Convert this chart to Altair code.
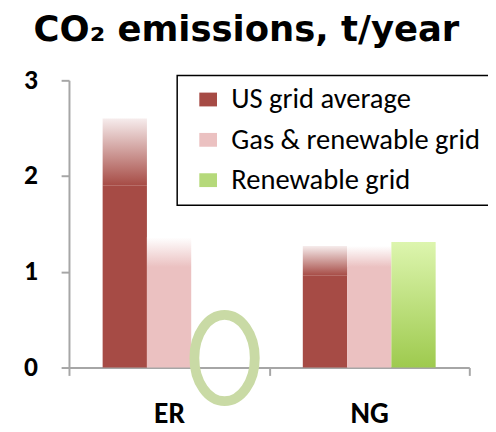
import altair as alt
import pandas as pd

# ---- data ----
categories = ["ER", "ER", "ER", "NG", "NG", "NG"]
series = ["US grid average", "Gas & renewable grid", "Renewable grid",
          "US grid average", "Gas & renewable grid", "Renewable grid"]
low_values = [1.9, 1.05, 0.0, 0.96, 1.05, 0.0]
high_values = [2.6, 1.36, 0.0, 1.27, 1.27, 1.31]

series_order = ["US grid average", "Gas & renewable grid", "Renewable grid"]
series_colors = ["#A64B45", "#EBC1C1", "#B5D97A"]

highlight_category = ["ER"]
highlight_series = ["Renewable grid"]
highlight_value = [0.10]

df = pd.DataFrame({"category": categories, "series": series,
                   "low": low_values, "high": high_values})
hl = pd.DataFrame({"category": highlight_category, "series": highlight_series,
                   "low": highlight_value})

FONT = "Carlito, Calibri, Lato, sans-serif"
TFONT = "DejaVu Sans, sans-serif"
AX = "#A6A6A6"

x_enc = alt.X("category:N", title=None,
              scale=alt.Scale(paddingInner=0, paddingOuter=0),
              axis=alt.Axis(labelAngle=0, tickBand="extent", domainColor=AX, domainWidth=2,
                            tickColor=AX, tickWidth=2, tickSize=8,
                            labelFont=FONT, labelFontWeight="bold", labelFontSize=30,
                            labelColor="black", labelPadding=24))
xo_enc = alt.XOffset("series:N",
                     scale=alt.Scale(domain=series_order, paddingInner=0, paddingOuter=0.76))
y_scale = alt.Scale(domain=[0, 3], nice=False)
y_enc = alt.Y("low:Q", title=None, scale=y_scale,
              axis=alt.Axis(values=[0, 1, 2, 3], grid=False, domainColor=AX, domainWidth=2,
                            tickColor=AX, tickWidth=2, tickSize=8, format="d",
                            labelFont=FONT, labelFontWeight="bold", labelFontSize=28,
                            labelColor="black", labelPadding=24))

base = alt.Chart(df)

solid = base.mark_bar().encode(
    x=x_enc, xOffset=xo_enc, y=y_enc,
    color=alt.Color("series:N", title=None,
                    scale=alt.Scale(domain=series_order, range=series_colors),
                    legend=alt.Legend(orient="none", legendX=110, legendY=-5,
                                      strokeColor="black", fillColor="white",
                                      padding=10, rowPadding=11, symbolOffset=7,
                                      symbolType="M-1,-0.78H1V0.78H-1Z", symbolSize=324,
                                      symbolStrokeWidth=0, labelFont=FONT, labelFontSize=29,
                                      labelColor="black", labelOffset=9, labelLimit=400)),
)


def grad(bottom, top):
    return alt.LinearGradient(gradient="linear", x1=0, x2=0, y1=1, y2=0,
                              stops=[alt.GradientStop(color=bottom, offset=0),
                                     alt.GradientStop(color=top, offset=1)])


gradient_specs = [("US grid average", "#A64B45", "#F6ECEC"),
                  ("Gas & renewable grid", "#EBC1C1", "#FFFFFF"),
                  ("Renewable grid", "#9ECA4E", "#DDF5AE")]

grad_layers = []
for name, c0, c1 in gradient_specs:
    grad_layers.append(
        base.transform_filter(alt.datum.series == name).mark_bar(color=grad(c0, c1)).encode(
            x=x_enc, xOffset=xo_enc, y=alt.Y("low:Q", scale=y_scale, title=None),
            y2="high:Q")
    )

ring = alt.Chart(hl).mark_point(
    shape="M-0.44,0A0.7,1,0,1,0,0.96,0A0.7,1,0,1,0,-0.44,0Z",
    size=7700, filled=False, color="#C9DAA5", strokeWidth=10, opacity=1
).encode(x=x_enc, xOffset=xo_enc, y=alt.Y("low:Q", scale=y_scale, title=None))

chart = alt.layer(solid, *grad_layers, ring).properties(
    width=407, height=292,
    autosize=alt.AutoSizeParams(type="none"),
    padding={"left": 62, "top": 70, "right": 19, "bottom": 62},
    background="white",
    title=alt.TitleParams("CO₂ emissions, t/year", font=TFONT, fontSize=36, fontWeight="bold",
                          color="black", anchor="start", frame="group", dx=-36, dy=32,
                          baseline="alphabetic", offset=22),
).configure_view(stroke=None).configure_legend(strokeWidth=1.5)

chart.save("out.html", embed_options={"renderer": "svg", "actions": False})
